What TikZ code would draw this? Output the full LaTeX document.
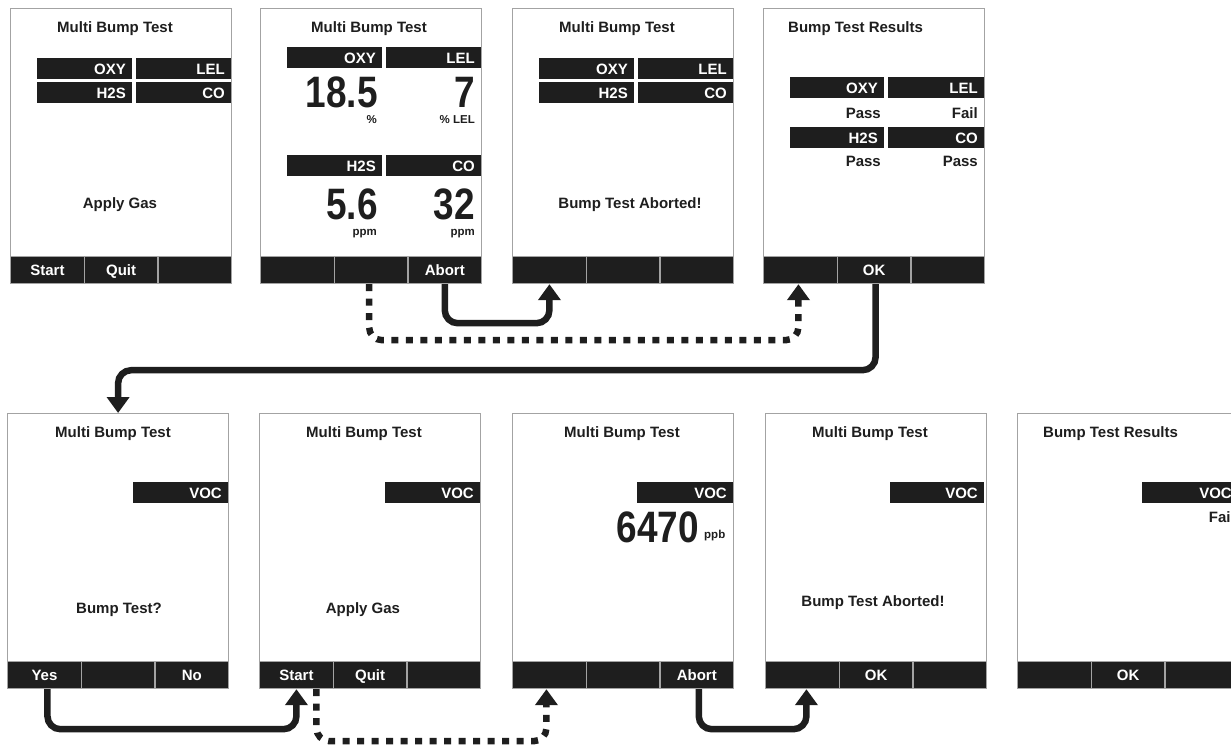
\documentclass[tikz,border=0pt]{standalone}
\usepackage{fontspec}
\setmainfont{Liberation Sans}
\usepackage{graphicx}
\usetikzlibrary{arrows.meta}
\definecolor{ink}{HTML}{1E1E1E}
\definecolor{rim}{HTML}{A3A3A3}
\tikzset{
  fnt/.style={font=\bfseries\fontsize{15}{15}\selectfont},
  frame/.style={draw=rim, line width=1.2pt, fill=white, rectangle, minimum width=221pt, minimum height=275pt, inner sep=0pt, anchor=north west},
  btn/.style={rectangle, fill=ink, draw=rim, line width=1.2pt, minimum width=73.67pt, minimum height=27pt, inner sep=0pt, anchor=north west, text=white, text height=11pt, text depth=0pt, fnt},
  wt/.style={text=white, fnt, anchor=base east, inner sep=0pt},
  tt/.style={text=ink, fnt, anchor=base, inner sep=0pt},
  ttw/.style={text=ink, fnt, anchor=base west, inner sep=0pt},
  rt/.style={text=ink, fnt, anchor=base east, inner sep=0pt},
  big/.style={text=ink, anchor=base east, inner sep=0pt, font=\bfseries\fontsize{44}{44}\selectfont},
  unit/.style={text=ink, anchor=base east, inner sep=0pt, font=\bfseries\fontsize{11.5}{11.5}\selectfont},
  conn/.style={line width=6.5pt, draw=ink, rounded corners=13pt, -{Triangle[width=22pt,length=16pt]}},
  dconn/.style={conn, line cap=butt, dash pattern=on 7pt off 7.5pt},
}
\newcommand\sbar[6]{%
  \fill[ink] (#2,#3) rectangle (#4,#5);
  \node[wt] (#1) at (#4-6,#3+16) {#6};}
\newcommand\scrn[5]{%
  \node[frame] (#1) at (0,0) {};
  \node[btn] (#1b1) at (0,248) {#2};
  \node[btn] (#1b2) at (73.67,248) {#3};
  \node[btn] (#1b3) at (147.33,248) {#4};
  #5}
\begin{document}
\begin{tikzpicture}[x=1pt, y=-1pt]
\useasboundingbox (0,0) rectangle (1231,744);
\clip (0,0) rectangle (1231,744);
\fill[white] (0,0) rectangle (1231,744);
% ---------- top row ----------
\begin{scope}[shift={(10,8)}]
\scrn{s1}{Start}{Quit}{}{%
  \node[tt] (s1t) at (105,24) {Multi Bump Test};
  \sbar{s1o}{27}{50}{122}{71}{OXY}
  \sbar{s1l}{126}{50}{221}{71}{LEL}
  \sbar{s1h}{27}{74}{122}{95}{H2S}
  \sbar{s1c}{126}{74}{221}{95}{CO}
  \node[tt] (s1m) at (110,200) {Apply Gas};}
\end{scope}
\begin{scope}[shift={(260,8)}]
\scrn{s2}{}{}{Abort}{%
  \node[tt] (s2t) at (109,24) {Multi Bump Test};
  \sbar{s2o}{27}{39}{122}{60}{OXY}
  \sbar{s2l}{126}{39}{221}{60}{LEL}
  \sbar{s2h}{27}{147}{122}{168}{H2S}
  \sbar{s2c}{126}{147}{221}{168}{CO}
  \node[big] (s2n1) at (118,99) {\scalebox{0.84}[1]{18.5}};
  \node[big] (s2n2) at (215,99) {\scalebox{0.84}[1]{7}};
  \node[unit] (s2u1) at (117,115) {\%};
  \node[unit] (s2u2) at (215,115) {\% LEL};
  \node[big] (s2n3) at (118,211) {\scalebox{0.84}[1]{5.6}};
  \node[big] (s2n4) at (215,211) {\scalebox{0.84}[1]{32}};
  \node[unit] (s2u3) at (117,227) {ppm};
  \node[unit] (s2u4) at (215,227) {ppm};}
\end{scope}
\begin{scope}[shift={(512,8)}]
\scrn{s3}{}{}{}{%
  \node[tt] (s3t) at (105,24) {Multi Bump Test};
  \sbar{s3o}{27}{50}{122}{71}{OXY}
  \sbar{s3l}{126}{50}{221}{71}{LEL}
  \sbar{s3h}{27}{74}{122}{95}{H2S}
  \sbar{s3c}{126}{74}{221}{95}{CO}
  \node[tt] (s3m) at (118,200) {Bump Test Aborted!};}
\end{scope}
\begin{scope}[shift={(763,8)}]
\scrn{s4}{}{OK}{}{%
  \node[ttw] (s4t) at (25,24) {Bump Test Results};
  \sbar{s4o}{27}{69}{121}{90}{OXY}
  \sbar{s4l}{125}{69}{221}{90}{LEL}
  \sbar{s4h}{27}{119}{121}{140}{H2S}
  \sbar{s4c}{125}{119}{221}{140}{CO}
  \node[rt] (s4r1) at (118,110) {Pass};
  \node[rt] (s4r2) at (215,110) {Fail};
  \node[rt] (s4r3) at (118,158) {Pass};
  \node[rt] (s4r4) at (215,158) {Pass};}
\end{scope}
% ---------- bottom row ----------
\begin{scope}[shift={(7,413)}]
\scrn{b1}{Yes}{}{No}{%
  \node[tt] (b1t) at (106,24) {Multi Bump Test};
  \sbar{b1v}{126}{69}{221}{90}{VOC}
  \node[tt] (b1m) at (112,200) {Bump Test?};}
\end{scope}
\begin{scope}[shift={(259,413)}]
\scrn{b2}{Start}{Quit}{}{%
  \node[tt] (b2t) at (105,24) {Multi Bump Test};
  \sbar{b2v}{126}{69}{221}{90}{VOC}
  \node[tt] (b2m) at (104,200) {Apply Gas};}
\end{scope}
\begin{scope}[shift={(512,413)}]
\scrn{b3}{}{}{Abort}{%
  \node[tt] (b3t) at (110,24) {Multi Bump Test};
  \sbar{b3v}{125}{69}{221}{90}{VOC}
  \node[big] (b3n) at (187,129) {\scalebox{0.84}[1]{6470}};
  \node[unit, anchor=base west] (b3u) at (192,125) {ppb};}
\end{scope}
\begin{scope}[shift={(765,413)}]
\scrn{b4}{}{OK}{}{%
  \node[tt] (b4t) at (105,24) {Multi Bump Test};
  \sbar{b4v}{125}{69}{219}{90}{VOC}
  \node[tt] (b4m) at (108,193) {Bump Test Aborted!};}
\end{scope}
\begin{scope}[shift={(1017,413)}]
\scrn{b5}{}{OK}{}{%
  \node[ttw] (b5t) at (26,24) {Bump Test Results};
  \sbar{b5v}{125}{69}{221}{90}{VOC}
  \node[rt] (b5r) at (218,109) {Fail};}
\end{scope}
% ---------- connectors ----------
\draw[conn] (s2b3.south) -- ++(0,39) -| (s3b1.south);
\draw[dconn] ([xshift=-2pt]s2b2.south) -- ++(0,56) -| ([xshift=-2pt]s4b1.south);
\draw[conn] ([xshift=1.5pt]s4b2.south) -- ++(0,86) -| (b1.north);
\draw[conn] ([xshift=3pt]b1b1.south) -- ++(0,40) -| (b2b1.south);
\draw[dconn] ([xshift=20pt]b2b1.south) -- ++(0,52) -| ([xshift=-3pt]b3b1.south);
\draw[conn] ([xshift=2pt]b3b3.south) -- ++(0,40) -| ([xshift=4pt]b4b1.south);
\end{tikzpicture}
\end{document}
